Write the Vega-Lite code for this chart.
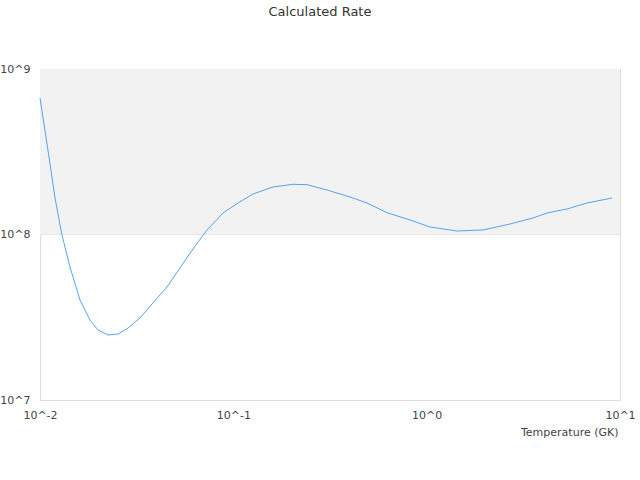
{
  "$schema": "https://vega.github.io/schema/vega-lite/v6.json",
  "autosize": "none",
  "width": 580,
  "height": 331,
  "padding": {"left": 40, "top": 69, "right": 20, "bottom": 80},
  "background": "white",
  "title": {"text": "Calculated Rate", "anchor": "middle", "offset": 44, "dx": -10, "fontSize": 13, "fontWeight": "normal", "color": "#333333"},
  "config": {
    "font": "DejaVu Sans",
    "view": {"stroke": "#dddddd", "strokeWidth": 1},
    "axis": {"domain": false, "ticks": false, "labelFlush": false, "labelFontSize": 11, "labelColor": "#444444", "titleFontSize": 11, "titleFontWeight": "normal", "titleColor": "#444444"}
  },
  "layer": [
    {
      "data": {"values": [{"lo": 100000000, "hi": 1000000000}]},
      "mark": {"type": "rect", "color": "#f2f2f2"},
      "encoding": {
        "y": {"field": "lo", "type": "quantitative", "scale": {"type": "log", "domain": [10000000, 1000000000]}},
        "y2": {"field": "hi"}
      }
    },
    {
      "data": {"values": [
        {"T": 0.01, "rate": 668000000},
        {"T": 0.01113, "rate": 294000000},
        {"T": 0.01196, "rate": 166200000},
        {"T": 0.01299, "rate": 99300000},
        {"T": 0.01429, "rate": 63600000},
        {"T": 0.0161, "rate": 40200000},
        {"T": 0.01814, "rate": 30400000},
        {"T": 0.01995, "rate": 26500000},
        {"T": 0.02247, "rate": 24700000},
        {"T": 0.02532, "rate": 25050000},
        {"T": 0.02852, "rate": 27200000},
        {"T": 0.0329, "rate": 31300000},
        {"T": 0.03841, "rate": 38600000},
        {"T": 0.04539, "rate": 48200000},
        {"T": 0.05296, "rate": 62800000},
        {"T": 0.06183, "rate": 81700000},
        {"T": 0.07308, "rate": 106500000},
        {"T": 0.08842, "rate": 134900000},
        {"T": 0.1057, "rate": 155000000},
        {"T": 0.1264, "rate": 175700000},
        {"T": 0.1604, "rate": 193600000},
        {"T": 0.2035, "rate": 201100000},
        {"T": 0.2404, "rate": 200000000},
        {"T": 0.3051, "rate": 185700000},
        {"T": 0.4013, "rate": 168500000},
        {"T": 0.4913, "rate": 155000000},
        {"T": 0.6234, "rate": 135400000},
        {"T": 0.82, "rate": 122400000},
        {"T": 1.04, "rate": 111000000},
        {"T": 1.435, "rate": 105000000},
        {"T": 1.956, "rate": 106500000},
        {"T": 2.698, "rate": 115700000},
        {"T": 3.548, "rate": 125800000},
        {"T": 4.194, "rate": 134900000},
        {"T": 5.318, "rate": 142600000},
        {"T": 6.751, "rate": 155000000},
        {"T": 9.093, "rate": 166200000}
      ]},
      "mark": {"type": "line", "color": "#55a3f0", "strokeWidth": 1},
      "encoding": {
        "x": {
          "field": "T", "type": "quantitative",
          "scale": {"type": "log", "domain": [0.01, 10]},
          "axis": {"values": [0.01, 0.1, 1, 10], "labelExpr": "'10^' + round(log(datum.value) / LN10)", "grid": false, "labelPadding": 9, "title": "Temperature (GK)", "titleAnchor": "end", "titleAlign": "right", "titlePadding": 6, "titleX": 578}
        },
        "y": {
          "field": "rate", "type": "quantitative",
          "scale": {"type": "log", "domain": [10000000, 1000000000]},
          "axis": {"values": [10000000, 100000000, 1000000000], "labelExpr": "'10^' + round(log(datum.value) / LN10)", "grid": true, "gridColor": "#dddddd", "labelPadding": 10, "title": null}
        }
      }
    }
  ]
}
